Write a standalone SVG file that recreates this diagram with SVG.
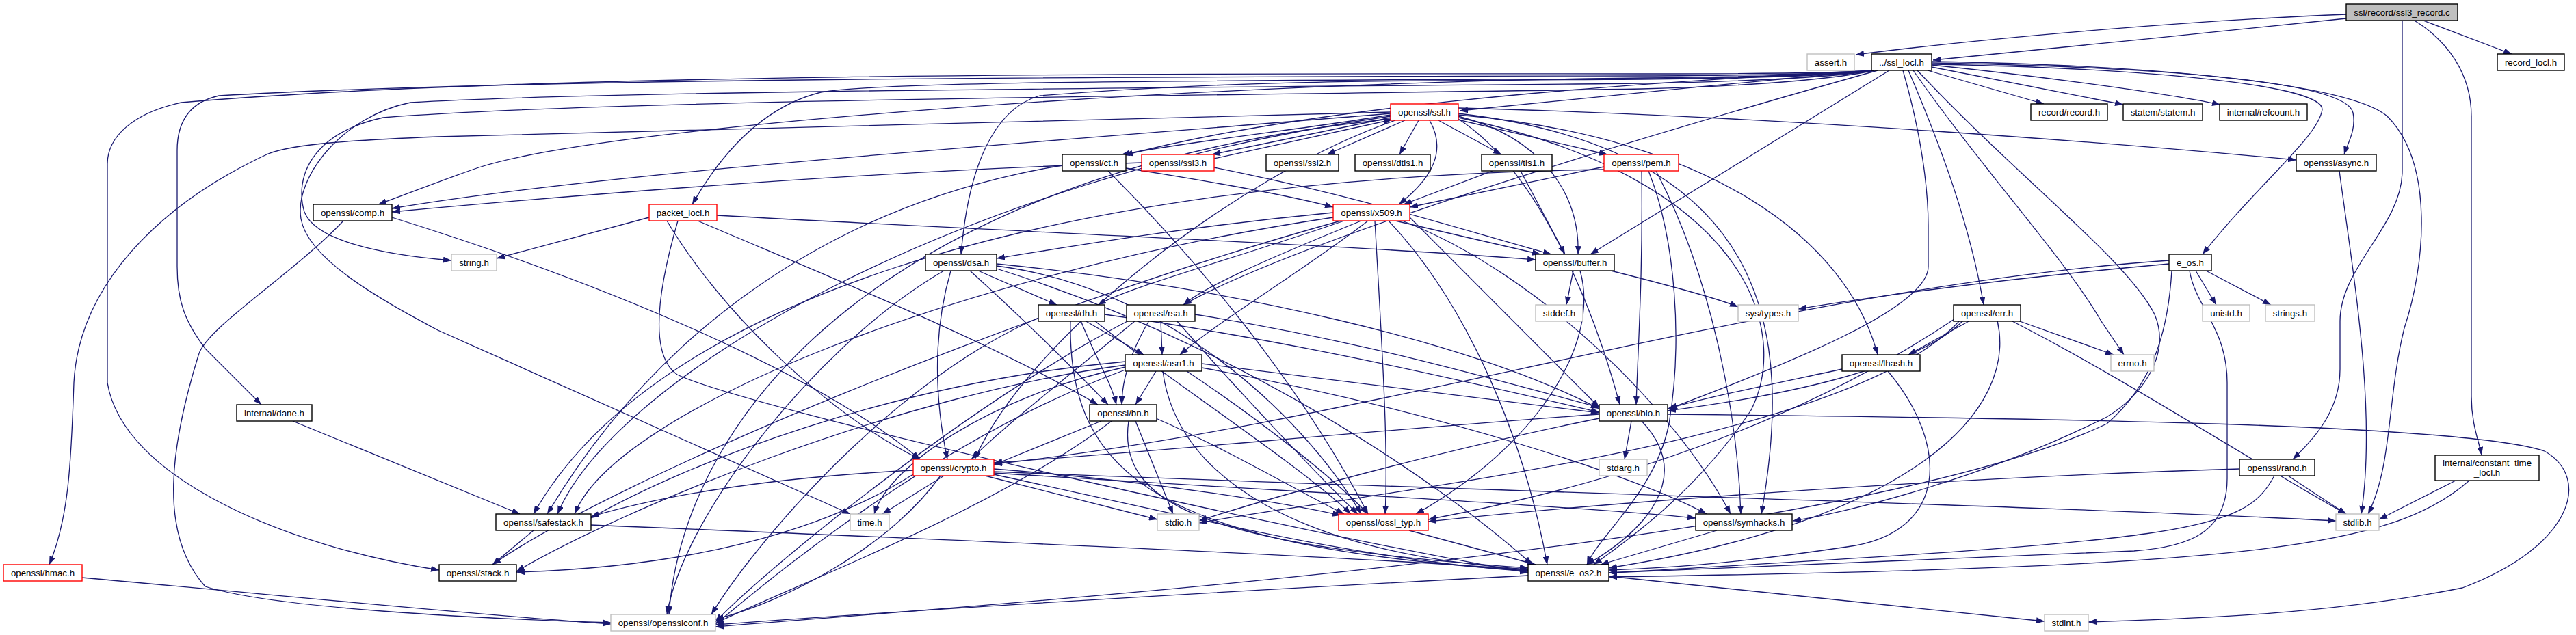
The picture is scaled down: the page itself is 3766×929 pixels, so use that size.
<svg xmlns="http://www.w3.org/2000/svg" width="3766" height="929" viewBox="0 0 3766 929">
<defs>
<marker id="arr" viewBox="0 0 12 9" refX="12" refY="4.5" markerWidth="12" markerHeight="9" markerUnits="userSpaceOnUse" orient="auto"><path d="M0,0 L12,4.5 L0,9 z" fill="#191970"/></marker>
</defs>
<style>
.e{fill:none;stroke:#191970;stroke-width:1.3;marker-end:url(#arr)}
.n rect{fill:#fff;stroke:#000;stroke-width:1.4}
.g rect{fill:#fff;stroke:#bfbfbf;stroke-width:1.4}
.r rect{fill:#fff;stroke:#ff0000;stroke-width:1.4}
.root rect{fill:#bfbfbf;stroke:#000;stroke-width:1.4}
text{font-family:"Liberation Sans",Arial,Helvetica,sans-serif;font-size:13.3px;text-anchor:middle;fill:#000}
</style>
<rect x="0" y="0" width="3766" height="929" fill="#fff"/>
<g id="edges">
<path class="e" d="M3430,21 C3200,30 2900,56 2713,80"/>
<path class="e" d="M3430,27 C3250,45 3000,72 2826,88"/>
<path class="e" d="M3540,29 L3672,79"/>
<path class="e" d="M3512,29 L3512,250 C3512,330 3421,390 3421,470 L3421,540 C3421,600 3385,640 3352,672"/>
<path class="e" d="M3528,29 C3580,60 3613,110 3613,170 L3613,580 C3613,620 3624,645 3628,666"/>
<path class="e" d="M2818,103 L2988,152"/>
<path class="e" d="M2824,98 L3104,153"/>
<path class="e" d="M2824,95 C2950,108 3150,133 3246,153"/>
<path class="e" d="M2824,92 C3150,98 3430,118 3440,165 C3445,190 3432,210 3427,226"/>
<path class="e" d="M2824,90 C3200,96 3440,128 3490,170 C3560,240 3545,390 3515,480 C3490,580 3498,680 3462,752"/>
<path class="e" d="M2824,94 C3150,100 3395,125 3395,160 C3390,200 3300,270 3220,372"/>
<path class="e" d="M2762,103 L2325,372"/>
<path class="e" d="M2782,103 C2810,200 2819,280 2819,330 L2819,390 C2819,450 2620,530 2440,598"/>
<path class="e" d="M2790,103 C2840,220 2880,330 2900,446"/>
<path class="e" d="M2797,103 C2900,250 3020,380 3072,470 L3105,519"/>
<path class="e" d="M2803,103 C2950,260 3110,380 3150,460 C3175,520 3130,580 3080,610 C2900,700 2700,750 2621,762"/>
<path class="e" d="M2740,103 C2550,120 2300,145 2134,162"/>
<path class="e" d="M2740,103 C2300,125 1900,160 1644,227"/>
<path class="e" d="M2740,103 C2700,108 2600,112 2400,114 C1800,120 900,180 700,245 C650,262 600,282 553,299"/>
<path class="e" d="M2740,103 C2700,108 2600,113 2400,115 C1800,118 1300,118 1200,135 C1100,160 1040,250 1012,299"/>
<path class="e" d="M2740,103 C2700,107 2600,110 2400,111 C1800,112 800,112 320,140 C275,150 259,180 259,220 L259,390 C259,440 270,470 300,510 L382,592"/>
<path class="e" d="M2740,103 C2700,106 2600,108 2400,108 C1800,108 800,104 265,150 C195,165 157,200 157,240 L157,560 C180,700 420,800 642,834"/>
<path class="e" d="M2740,103 C2700,112 2600,125 2400,130 C1800,140 900,145 560,172 C455,195 430,260 445,310 C460,350 550,372 660,381"/>
<path class="e" d="M2740,103 C2700,110 2600,118 2400,122 C1800,128 900,132 600,150 C500,170 430,260 440,320 C450,380 560,440 640,483 L1243,752"/>
<path class="e" d="M2745,103 C2400,200 1900,350 1730,446"/>
<path class="e" d="M2740,103 C2700,109 2600,114 2400,116 C2000,118 1800,118 1520,140 C1450,160 1415,250 1405,372"/>
<path class="e" d="M2054,176 L1940,226"/>
<path class="e" d="M2074,176 L2046,226"/>
<path class="e" d="M2103,176 L2195,226"/>
<path class="e" d="M2131,175 L2350,226"/>
<path class="e" d="M2090,176 C2115,220 2095,260 2045,299"/>
<path class="e" d="M2132,170 C2250,200 2310,280 2307,372"/>
<path class="e" d="M2033,172 L1772,226"/>
<path class="e" d="M2033,168 C1900,190 1750,205 1640,226"/>
<path class="e" d="M2033,166 C1500,210 900,250 573,305"/>
<path class="e" d="M2033,164 C1400,180 800,195 640,200 C520,205 430,210 392,225 C230,300 115,420 108,560 C104,680 100,760 72,826"/>
<path class="e" d="M2040,176 C1800,260 1500,500 1425,672"/>
<path class="e" d="M2132,168 C2500,200 2700,350 2745,519"/>
<path class="e" d="M2132,158 C2600,170 3100,210 3357,234"/>
<path class="e" d="M2132,174 C2250,250 2330,450 2368,592"/>
<path class="e" d="M2132,172 C2550,260 2620,480 2560,600 C2480,720 2380,790 2330,826"/>
<path class="e" d="M2033,174 C1300,250 1000,600 978,899"/>
<path class="e" d="M2033,170 C1400,260 900,550 815,752"/>
<path class="e" d="M2132,166 C2600,220 2620,500 2575,752"/>
<path class="e" d="M1775,232 L2035,175"/>
<path class="e" d="M1669,238 C1300,250 900,280 573,310"/>
<path class="e" d="M1775,245 C2000,290 2150,340 2268,372"/>
<path class="e" d="M2223,250 L2288,372"/>
<path class="e" d="M2182,250 L2052,299"/>
<path class="e" d="M1646,246 C1800,270 1900,290 1949,303"/>
<path class="e" d="M1620,250 C1750,380 1900,560 2000,752"/>
<path class="e" d="M1553,242 C1200,300 950,500 800,752"/>
<path class="e" d="M2345,244 L2061,303"/>
<path class="e" d="M2400,250 C2402,400 2395,500 2392,592"/>
<path class="e" d="M2410,250 C2450,350 2460,500 2440,620 C2420,720 2340,780 2320,826"/>
<path class="e" d="M2421,250 C2500,400 2540,600 2545,752"/>
<path class="e" d="M2345,248 C1500,260 950,450 780,752"/>
<path class="e" d="M2040,323 L2252,372"/>
<path class="e" d="M2010,323 C2020,500 2030,650 2025,752"/>
<path class="e" d="M2030,323 C2150,450 2230,650 2262,826"/>
<path class="e" d="M2050,323 C2250,400 2450,600 2530,752"/>
<path class="e" d="M2061,318 L2338,596"/>
<path class="e" d="M1960,323 C1500,450 900,700 720,826"/>
<path class="e" d="M2000,323 C1900,400 1780,470 1725,519"/>
<path class="e" d="M1949,318 C1400,400 900,600 840,752"/>
<path class="e" d="M1990,323 C1850,380 1760,420 1730,446"/>
<path class="e" d="M1949,311 C1750,330 1600,355 1457,378"/>
<path class="e" d="M1965,323 C1800,380 1650,420 1605,446"/>
<path class="e" d="M2300,396 L2290,446"/>
<path class="e" d="M2355,396 C2450,420 2520,440 2541,449"/>
<path class="e" d="M2310,396 C2340,500 2250,650 2070,752"/>
<path class="e" d="M1430,396 L1545,446"/>
<path class="e" d="M1418,396 C1500,470 1580,550 1620,592"/>
<path class="e" d="M1390,396 C1360,500 1370,600 1385,672"/>
<path class="e" d="M1457,389 C1700,420 1900,600 1990,752"/>
<path class="e" d="M1457,393 C1800,500 2100,700 2240,826"/>
<path class="e" d="M1457,386 C1800,420 2150,500 2338,598"/>
<path class="e" d="M1380,396 C1200,500 1000,750 975,899"/>
<path class="e" d="M1586,469 L1672,519"/>
<path class="e" d="M1580,469 C1600,520 1625,560 1632,592"/>
<path class="e" d="M1615,460 C1900,500 2150,560 2338,603"/>
<path class="e" d="M1600,469 C1700,550 1900,680 1975,752"/>
<path class="e" d="M1565,469 C1560,700 1700,800 2234,835"/>
<path class="e" d="M1518,465 C1300,560 1100,800 1040,899"/>
<path class="e" d="M1697,469 L1699,519"/>
<path class="e" d="M1680,469 C1650,520 1640,560 1640,592"/>
<path class="e" d="M1747,460 C2000,500 2200,560 2338,596"/>
<path class="e" d="M1660,469 C1550,560 1460,630 1420,672"/>
<path class="e" d="M1720,469 C1800,560 1930,700 1985,752"/>
<path class="e" d="M1650,469 C1400,600 1100,850 1046,910"/>
<path class="e" d="M1645,537 C1450,580 1300,680 1278,752"/>
<path class="e" d="M1700,543 C1720,700 1900,810 2234,833"/>
<path class="e" d="M1645,541 C1350,650 1100,870 1046,913"/>
<path class="e" d="M1757,532 L2338,604"/>
<path class="e" d="M1645,534 C1300,580 900,750 755,836"/>
<path class="e" d="M1645,529 C1300,560 1000,680 864,758"/>
<path class="e" d="M1757,538 C2100,600 2400,700 2495,752"/>
<path class="e" d="M1735,543 C1850,620 1950,700 2000,752"/>
<path class="e" d="M1690,543 L1660,592"/>
<path class="e" d="M1650,616 C1630,750 1800,800 2234,831"/>
<path class="e" d="M1660,616 L1715,752"/>
<path class="e" d="M1625,616 C1450,750 1150,860 1046,912"/>
<path class="e" d="M1690,612 C1800,660 1900,720 1965,752"/>
<path class="e" d="M1610,616 L1453,680"/>
<path class="e" d="M1453,690 C2200,720 3000,740 3415,762"/>
<path class="e" d="M1380,696 L1290,752"/>
<path class="e" d="M1453,694 C1800,770 2000,820 2234,836"/>
<path class="e" d="M1440,696 L1692,760"/>
<path class="e" d="M1335,694 C1200,780 1000,830 755,837"/>
<path class="e" d="M1335,688 C1100,700 950,730 864,756"/>
<path class="e" d="M1453,686 C1700,705 1900,740 1960,754"/>
<path class="e" d="M1375,696 C1300,800 1150,880 1046,906"/>
<path class="e" d="M1453,692 C1900,720 2300,740 2479,758"/>
<path class="e" d="M2400,616 C2480,700 2400,780 2320,826"/>
<path class="e" d="M2338,612 C2100,660 1850,730 1753,762"/>
<path class="e" d="M2385,616 L2375,672"/>
<path class="e" d="M2338,606 C2000,630 1700,660 1453,677"/>
<path class="e" d="M2438,606 C3000,612 3600,620 3720,660 C3790,700 3760,800 3600,860 C3400,900 3200,905 3053,910"/>
<path class="e" d="M2693,540 C2600,560 2500,580 2438,598"/>
<path class="e" d="M2760,543 C2850,650 2850,780 2700,800 C2500,830 2400,832 2352,834"/>
<path class="e" d="M2880,469 L2790,519"/>
<path class="e" d="M2950,469 L3090,519"/>
<path class="e" d="M2870,469 C2800,540 2600,580 2438,601"/>
<path class="e" d="M2920,469 C2950,600 2800,760 2352,831"/>
<path class="e" d="M2865,469 C2700,650 2000,720 1753,765"/>
<path class="e" d="M2940,469 C3100,550 3300,680 3430,752"/>
<path class="e" d="M2860,465 C2600,640 2300,720 2088,760"/>
<path class="e" d="M2234,842 C1700,870 1300,895 1046,914"/>
<path class="e" d="M2352,843 C2600,870 2850,895 2989,909"/>
<path class="e" d="M2060,776 L2245,826"/>
<path class="e" d="M780,776 L720,826"/>
<path class="e" d="M864,768 C1400,790 2000,815 2234,834"/>
<path class="e" d="M2510,776 L2340,826"/>
<path class="e" d="M573,318 C900,420 1200,550 1345,672"/>
<path class="e" d="M502,323 C430,400 300,480 290,520 C250,650 230,780 300,858 C400,890 700,905 893,911"/>
<path class="e" d="M120,845 C400,870 700,900 893,913"/>
<path class="e" d="M3420,250 C3440,400 3475,600 3452,752"/>
<path class="e" d="M3345,696 L3430,752"/>
<path class="e" d="M3325,696 C3280,780 3200,790 2352,838"/>
<path class="e" d="M3274,686 C2800,700 2300,740 2088,763"/>
<path class="e" d="M3590,703 L3478,760"/>
<path class="e" d="M3610,703 C3500,800 3300,830 2352,844"/>
<path class="e" d="M428,616 L760,752"/>
<path class="e" d="M949,318 L726,378"/>
<path class="e" d="M1048,315 C1500,340 2000,360 2245,380"/>
<path class="e" d="M1020,323 C1200,400 1450,500 1605,592"/>
<path class="e" d="M975,323 C1050,450 1200,600 1345,672"/>
<path class="e" d="M991,323 C960,430 950,520 990,548 C1100,600 1900,780 2234,838"/>
<path class="e" d="M3171,386 C2900,410 2700,440 2629,452"/>
<path class="e" d="M3210,396 L3240,446"/>
<path class="e" d="M3225,396 L3320,446"/>
<path class="e" d="M3201,396 C3210,450 3256,480 3256,560 L3256,700 C3256,780 3200,800 3120,806 C2800,820 2500,830 2352,838"/>
<path class="e" d="M3171,381 C2600,420 2000,620 1453,679"/>
<path class="e" d="M3175,396 C3170,480 3150,560 3080,620 C2700,800 1500,880 1046,917"/>
</g>
<g id="n_root" class="root"><rect x="3430" y="6" width="163" height="24"/><text x="3511.5" y="22.5">ssl/record/ssl3_record.c</text></g>
<g id="n_assert" class="g"><rect x="2642" y="79" width="69" height="24"/><text x="2676.5" y="95.5">assert.h</text></g>
<g id="n_ssl_locl" class="n"><rect x="2736" y="79" width="88" height="24"/><text x="2780" y="95.5">../ssl_locl.h</text></g>
<g id="n_record_locl" class="n"><rect x="3651" y="79" width="98" height="24"/><text x="3700" y="95.5">record_locl.h</text></g>
<g id="n_ssl" class="r"><rect x="2033" y="152" width="99" height="24"/><text x="2082.5" y="168.5">openssl/ssl.h</text></g>
<g id="n_record" class="n"><rect x="2969" y="152" width="112" height="24"/><text x="3025" y="168.5">record/record.h</text></g>
<g id="n_statem" class="n"><rect x="3104" y="152" width="116" height="24"/><text x="3162" y="168.5">statem/statem.h</text></g>
<g id="n_refcount" class="n"><rect x="3245" y="152" width="128" height="24"/><text x="3309" y="168.5">internal/refcount.h</text></g>
<g id="n_ct" class="n"><rect x="1553" y="226" width="93" height="24"/><text x="1599.5" y="242.5">openssl/ct.h</text></g>
<g id="n_ssl3" class="r"><rect x="1669" y="226" width="106" height="24"/><text x="1722" y="242.5">openssl/ssl3.h</text></g>
<g id="n_ssl2" class="n"><rect x="1851" y="226" width="106" height="24"/><text x="1904" y="242.5">openssl/ssl2.h</text></g>
<g id="n_dtls1" class="n"><rect x="1981" y="226" width="110" height="24"/><text x="2036" y="242.5">openssl/dtls1.h</text></g>
<g id="n_tls1" class="n"><rect x="2166" y="226" width="103" height="24"/><text x="2217.5" y="242.5">openssl/tls1.h</text></g>
<g id="n_pem" class="r"><rect x="2345" y="226" width="109" height="24"/><text x="2399.5" y="242.5">openssl/pem.h</text></g>
<g id="n_async" class="n"><rect x="3357" y="226" width="117" height="24"/><text x="3415.5" y="242.5">openssl/async.h</text></g>
<g id="n_comp" class="n"><rect x="458" y="299" width="115" height="24"/><text x="515.5" y="315.5">openssl/comp.h</text></g>
<g id="n_packet_locl" class="r"><rect x="949" y="299" width="99" height="24"/><text x="998.5" y="315.5">packet_locl.h</text></g>
<g id="n_x509" class="r"><rect x="1949" y="299" width="112" height="24"/><text x="2005" y="315.5">openssl/x509.h</text></g>
<g id="n_string" class="g"><rect x="660" y="372" width="66" height="24"/><text x="693" y="388.5">string.h</text></g>
<g id="n_dsa" class="n"><rect x="1353" y="372" width="104" height="24"/><text x="1405" y="388.5">openssl/dsa.h</text></g>
<g id="n_buffer" class="n"><rect x="2245" y="372" width="115" height="24"/><text x="2302.5" y="388.5">openssl/buffer.h</text></g>
<g id="n_e_os" class="n"><rect x="3171" y="372" width="62" height="24"/><text x="3202" y="388.5">e_os.h</text></g>
<g id="n_dh" class="n"><rect x="1518" y="446" width="97" height="24"/><text x="1566.5" y="462.5">openssl/dh.h</text></g>
<g id="n_rsa" class="n"><rect x="1647" y="446" width="100" height="24"/><text x="1697" y="462.5">openssl/rsa.h</text></g>
<g id="n_stddef" class="g"><rect x="2245" y="446" width="69" height="24"/><text x="2279.5" y="462.5">stddef.h</text></g>
<g id="n_systypes" class="g"><rect x="2541" y="446" width="88" height="24"/><text x="2585" y="462.5">sys/types.h</text></g>
<g id="n_err" class="n"><rect x="2856" y="446" width="98" height="24"/><text x="2905" y="462.5">openssl/err.h</text></g>
<g id="n_unistd" class="g"><rect x="3220" y="446" width="69" height="24"/><text x="3254.5" y="462.5">unistd.h</text></g>
<g id="n_strings" class="g"><rect x="3312" y="446" width="72" height="24"/><text x="3348" y="462.5">strings.h</text></g>
<g id="n_asn1" class="n"><rect x="1645" y="519" width="112" height="24"/><text x="1701" y="535.5">openssl/asn1.h</text></g>
<g id="n_lhash" class="n"><rect x="2693" y="519" width="114" height="24"/><text x="2750" y="535.5">openssl/lhash.h</text></g>
<g id="n_errno" class="g"><rect x="3086" y="519" width="63" height="24"/><text x="3117.5" y="535.5">errno.h</text></g>
<g id="n_dane" class="n"><rect x="346" y="592" width="110" height="24"/><text x="401" y="608.5">internal/dane.h</text></g>
<g id="n_bn" class="n"><rect x="1593" y="592" width="98" height="24"/><text x="1642" y="608.5">openssl/bn.h</text></g>
<g id="n_bio" class="n"><rect x="2338" y="592" width="100" height="24"/><text x="2388" y="608.5">openssl/bio.h</text></g>
<g id="n_crypto" class="r"><rect x="1335" y="672" width="118" height="24"/><text x="1394" y="688.5">openssl/crypto.h</text></g>
<g id="n_stdarg" class="g"><rect x="2338" y="672" width="70" height="24"/><text x="2373" y="688.5">stdarg.h</text></g>
<g id="n_rand" class="n"><rect x="3274" y="672" width="110" height="24"/><text x="3329" y="688.5">openssl/rand.h</text></g>
<g id="n_constant_time" class="n"><rect x="3560" y="666" width="152" height="37"/><text x="3636" y="682">internal/constant_time</text><text x="3636" y="695.5">_locl.h</text></g>
<g id="n_safestack" class="n"><rect x="725" y="752" width="139" height="24"/><text x="794.5" y="768.5">openssl/safestack.h</text></g>
<g id="n_time" class="g"><rect x="1243" y="752" width="57" height="24"/><text x="1271.5" y="768.5">time.h</text></g>
<g id="n_stdio" class="g"><rect x="1692" y="752" width="61" height="24"/><text x="1722.5" y="768.5">stdio.h</text></g>
<g id="n_ossl_typ" class="r"><rect x="1957" y="752" width="131" height="24"/><text x="2022.5" y="768.5">openssl/ossl_typ.h</text></g>
<g id="n_symhacks" class="n"><rect x="2479" y="752" width="141" height="24"/><text x="2549.5" y="768.5">openssl/symhacks.h</text></g>
<g id="n_stdlib" class="g"><rect x="3415" y="752" width="63" height="24"/><text x="3446.5" y="768.5">stdlib.h</text></g>
<g id="n_hmac" class="r"><rect x="5" y="826" width="115" height="24"/><text x="62.5" y="842.5">openssl/hmac.h</text></g>
<g id="n_stack" class="n"><rect x="642" y="826" width="113" height="24"/><text x="698.5" y="842.5">openssl/stack.h</text></g>
<g id="n_e_os2" class="n"><rect x="2234" y="826" width="118" height="24"/><text x="2293" y="842.5">openssl/e_os2.h</text></g>
<g id="n_opensslconf" class="g"><rect x="893" y="899" width="153" height="24"/><text x="969.5" y="915.5">openssl/opensslconf.h</text></g>
<g id="n_stdint" class="g"><rect x="2989" y="899" width="64" height="24"/><text x="3021" y="915.5">stdint.h</text></g>
</svg>
